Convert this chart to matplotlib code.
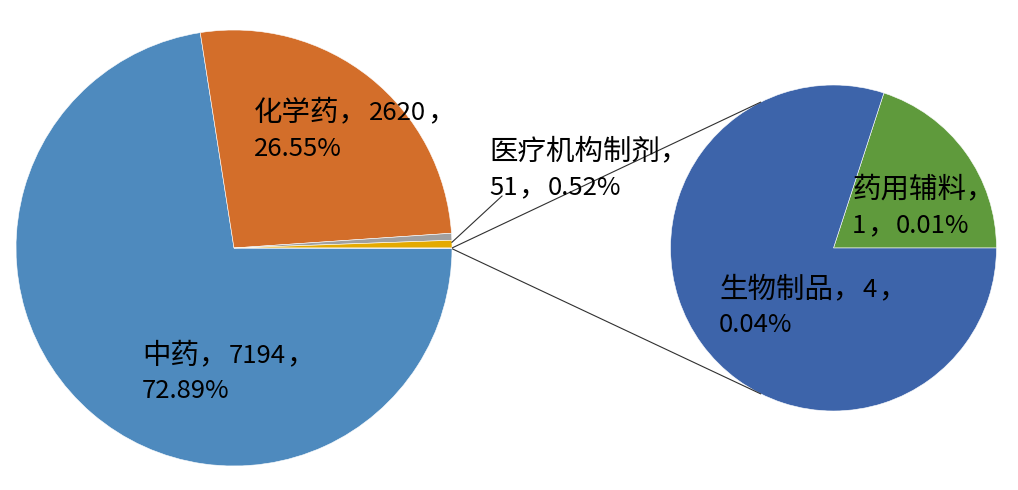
import numpy as np
import matplotlib
matplotlib.use("Agg")
import matplotlib.pyplot as plt

plt.rcParams['font.family'] = ['Noto Sans CJK SC', 'DejaVu Sans']

# ---- data ----
main_labels = ['中药', '化学药', '医疗机构制剂', '', '其他']
main_values = [7194, 2620, 51, 56, 5]          # 4th: unlabeled gold slice; 5th: "other" = secondary sum
main_colors = ['#4E8ABE', '#D36E2A', '#A0A0A0', '#E4AA00', '#3D64AA']

sec_labels = ['药用辅料', '生物制品']
sec_values = [1, 4]
sec_colors = ['#5F9A3C', '#3D64AA']

label_line1 = ['中药，7194，', '化学药，2620，', '医疗机构制剂，', '药用辅料，', '生物制品，4，']
label_line2 = ['72.89%', '26.55%', '51，0.52%', '1，0.01%', '0.04%']

# ---- layout ----
W, H = 1018, 490
fig = plt.figure(figsize=(W / 100, H / 100), dpi=100)
ax = fig.add_axes([0, 0, 1, 1])

def Y(y):
    return H - y

main_c = (234, Y(248))
main_r = 218
sec_c = (833.5, Y(248))
sec_r = 163
start = -0.18

wp = dict(edgecolor='white', linewidth=0.4)
ax.pie(main_values, colors=main_colors, startangle=start, counterclock=False,
       center=main_c, radius=main_r, wedgeprops=wp, frame=True)
ax.pie(sec_values, colors=sec_colors, startangle=0, counterclock=True,
       center=sec_c, radius=sec_r, wedgeprops=wp, frame=True)
ax.set_xlim(0, W)
ax.set_ylim(0, H)
ax.set_aspect('equal')
ax.axis('off')

# connector lines from the "other" slice to the secondary pie
frac = np.array(main_values, float) / sum(main_values)
other_a0 = start
other_a1 = start + frac[-1] * 360
sec_ang = 116.4
for a_main, a_sec in [(other_a1, sec_ang), (other_a0, -sec_ang)]:
    p0 = (main_c[0] + main_r * np.cos(np.radians(a_main)),
          main_c[1] + main_r * np.sin(np.radians(a_main)))
    p1 = (sec_c[0] + sec_r * np.cos(np.radians(a_sec)),
          sec_c[1] + sec_r * np.sin(np.radians(a_sec)))
    ax.plot([p0[0], p1[0]], [p0[1], p1[1]], color='#303030', lw=0.8,
            solid_capstyle='butt', zorder=5)

# leader line for 医疗机构制剂
a_lead = 1.5
p0 = (main_c[0] + main_r * np.cos(np.radians(a_lead)),
      main_c[1] + main_r * np.sin(np.radians(a_lead)))
ax.plot([p0[0], 502], [p0[1], Y(196)], color='#303030', lw=0.8, zorder=5)

# labels: mixed runs (CJK larger, Latin digits smaller)
fs_cjk = 20.5
fs_lat = 18.5
renderer = fig.canvas.get_renderer()

def split_runs(s):
    runs = []
    for ch in s:
        c = ord(ch) > 0x2E80
        if runs and runs[-1][0] == c:
            runs[-1][1] += ch
        else:
            runs.append([c, ch])
    return runs

def draw_label(x, yb, s):
    for is_cjk, part in split_runs(s):
        if is_cjk:
            ax.text(x, Y(yb), part, fontsize=fs_cjk, ha='left', va='baseline',
                    color='black', zorder=6)
            x += len(part) * fs_cjk * 100 / 72 * 1.01
        else:
            t = ax.text(x, Y(yb), part, fontsize=fs_lat, ha='left', va='baseline',
                        color='black', zorder=6)
            x += t.get_window_extent(renderer).width + 1

label_pos = [(142, 363, 398), (254, 120, 156), (489, 159, 195),
             (852, 197, 233), (719, 297, 332)]
for (x, b1, b2), t1, t2 in zip(label_pos, label_line1, label_line2):
    draw_label(x, b1, t1)
    draw_label(x, b2, t2)

fig.savefig('out.png', dpi=100)
